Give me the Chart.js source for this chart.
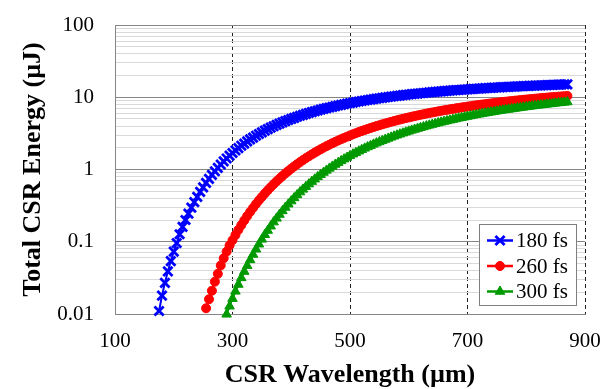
<!DOCTYPE html>
<html lang="en">
<head>
  <meta charset="UTF-8">
  <title>Total CSR Energy</title>
  <script src="https://cdn.jsdelivr.net/npm/chart.js"></script>
  <style>
    body { margin: 0; background: #fff; }
    #wrap { width: 605px; height: 389px; }
  </style>
</head>
<body>
<div id="wrap"><canvas id="graficoCSR" width="605" height="389"></canvas></div>

<script>
  // CSR wavelength (um), one sample every 5 um
  const wavelength = [
    175,180,185,190,195,200,205,210,215,220,225,230,235,240,
    245,250,255,260,265,270,275,280,285,290,295,300,305,310,
    315,320,325,330,335,340,345,350,355,360,365,370,375,380,
    385,390,395,400,405,410,415,420,425,430,435,440,445,450,
    455,460,465,470,475,480,485,490,495,500,505,510,515,520,
    525,530,535,540,545,550,555,560,565,570,575,580,585,590,
    595,600,605,610,615,620,625,630,635,640,645,650,655,660,
    665,670,675,680,685,690,695,700,705,710,715,720,725,730,
    735,740,745,750,755,760,765,770,775,780,785,790,795,800,
    805,810,815,820,825,830,835,840,845,850,855,860,865,870
  ];

  // total CSR energy (uJ); null = below the 0.01 axis
  const energy180 = [
    0.011,0.018,0.027,0.039,0.054,0.073,0.096,0.127,0.161,0.200,0.245,0.296,0.354,0.418,
    0.490,0.567,0.652,0.743,0.841,0.945,1.055,1.172,1.294,1.421,1.555,1.692,1.834,1.981,
    2.133,2.286,2.444,2.606,2.768,2.935,3.101,3.273,3.444,3.617,3.791,3.965,4.140,4.317,
    4.489,4.667,4.843,5.018,5.195,5.369,5.543,5.715,5.887,6.058,6.227,6.396,6.563,6.730,
    6.894,7.056,7.217,7.377,7.536,7.692,7.847,7.999,8.151,8.300,8.448,8.593,8.737,8.879,
    9.020,9.158,9.294,9.430,9.561,9.693,9.824,9.949,10.08,10.20,10.32,10.44,10.56,10.68,
    10.79,10.91,11.02,11.13,11.24,11.35,11.45,11.55,11.66,11.76,11.86,11.96,12.05,12.15,
    12.24,12.33,12.43,12.52,12.61,12.69,12.78,12.86,12.94,13.03,13.11,13.19,13.26,13.34,
    13.42,13.50,13.57,13.64,13.71,13.78,13.85,13.92,13.99,14.06,14.12,14.19,14.25,14.31,
    14.38,14.44,14.50,14.56,14.62,14.67,14.73,14.79,14.84,14.90,14.95,15.00,15.05,15.11
  ];

  const energy260 = [
    null,null,null,null,null,null,null,null,null,null,null,null,null,null,
    null,null,0.012,0.016,0.021,0.028,0.036,0.047,0.059,0.073,0.089,0.105,0.124,0.146,
    0.170,0.197,0.227,0.259,0.294,0.333,0.374,0.418,0.466,0.516,0.570,0.626,0.686,0.748,
    0.814,0.883,0.954,1.028,1.104,1.184,1.267,1.352,1.438,1.527,1.618,1.711,1.807,1.905,
    2.004,2.105,2.206,2.310,2.416,2.523,2.631,2.739,2.850,2.960,3.072,3.184,3.298,3.412,
    3.526,3.641,3.756,3.870,3.988,4.101,4.218,4.333,4.449,4.566,4.681,4.797,4.913,5.028,
    5.142,5.257,5.372,5.487,5.599,5.713,5.824,5.935,6.048,6.159,6.268,6.378,6.486,6.594,
    6.703,6.808,6.914,7.019,7.125,7.230,7.333,7.433,7.536,7.635,7.737,7.836,7.932,8.029,
    8.128,8.224,8.318,8.411,8.507,8.599,8.689,8.779,8.870,8.958,9.047,9.137,9.224,9.308,
    9.394,9.478,9.559,9.644,9.727,9.805,9.887,9.967,10.04,10.12,10.20,10.28,10.35,10.43
  ];

  const energy300 = [
    null,null,null,null,null,null,null,null,null,null,null,null,null,null,
    null,null,null,null,null,null,null,null,null,0.0099,0.0128,0.0163,0.0206,0.0256,
    0.0316,0.0386,0.0467,0.0561,0.0667,0.0788,0.0924,0.108,0.125,0.143,0.164,0.187,0.211,0.238,
    0.267,0.298,0.331,0.366,0.404,0.444,0.487,0.531,0.579,0.628,0.680,0.734,0.790,0.849,
    0.909,0.972,1.036,1.104,1.173,1.243,1.316,1.391,1.468,1.546,1.627,1.707,1.791,1.875,
    1.962,2.050,2.138,2.228,2.318,2.410,2.506,2.598,2.693,2.789,2.886,2.983,3.082,3.180,
    3.280,3.380,3.481,3.581,3.683,3.785,3.886,3.987,4.090,4.194,4.294,4.397,4.499,4.601,
    4.706,4.806,4.908,5.010,5.114,5.216,5.317,5.417,5.518,5.618,5.720,5.819,5.917,6.016,
    6.117,6.216,6.312,6.410,6.509,6.606,6.699,6.794,6.890,6.983,7.078,7.174,7.266,7.358,
    7.450,7.541,7.629,7.722,7.811,7.897,7.988,8.075,8.159,8.248,8.333,8.418,8.500,8.588
  ];

  const seriesNames = ['180 fs', '260 fs', '300 fs'];
  const xTicks = [100, 300, 500, 700, 900];
  const yDecades = [0.01, 0.1, 1, 10, 100];

  const serif = "'Liberation Serif', 'Times New Roman', serif";

  // log grid: 1..9 in every decade
  const yTicks = [];
  yDecades.forEach((d, i) => {
    if (i === yDecades.length - 1) { yTicks.push(d); return; }
    for (let k = 1; k < 10; k++) yTicks.push(+(d * k).toPrecision(3));
  });

  const toPoints = vals => wavelength
    .map((w, i) => ({ x: w, y: vals[i] }))
    .filter(p => p.y !== null);

  // legend box inside the plot, like the original
  const cajaLeyenda = {
    id: 'cajaLeyenda',
    afterDraw(chart) {
      const ctx = chart.ctx;
      const x0 = 479, y0 = 224, w = 97, h = 81;
      ctx.save();
      ctx.fillStyle = '#fff';
      ctx.fillRect(x0, y0, w, h);
      ctx.strokeStyle = '#7f7f7f';
      ctx.lineWidth = 1;
      ctx.strokeRect(x0 + 0.5, y0 + 0.5, w, h);

      chart.data.datasets.forEach((ds, i) => {
        const y = y0 + 16.5 + i * 25.5;
        ctx.strokeStyle = ds.borderColor;
        ctx.lineWidth = 2.5;
        ctx.beginPath();
        ctx.moveTo(x0 + 8, y);
        ctx.lineTo(x0 + 34, y);
        ctx.stroke();

        ctx.fillStyle = ds.pointBackgroundColor;
        ctx.strokeStyle = ds.pointBorderColor;
        ctx.lineWidth = ds.pointBorderWidth;
        Chart.helpers.drawPoint(ctx, {
          pointStyle: ds.pointStyle,
          radius: ds.pointRadius,
          borderWidth: ds.pointBorderWidth,
          rotation: 0
        }, x0 + 21, y);

        ctx.fillStyle = '#000';
        ctx.font = '21px ' + serif;
        ctx.textAlign = 'left';
        ctx.textBaseline = 'middle';
        ctx.fillText(ds.label, x0 + 37, y + 1);
      });
      ctx.restore();
    }
  };

  const ctx = document.getElementById('graficoCSR').getContext('2d');
  new Chart(ctx, {
    type: 'line',
    data: {
      datasets: [
        {
          label: seriesNames[0],
          data: toPoints(energy180),
          borderColor: '#0000ff',
          backgroundColor: '#0000ff',
          borderWidth: 2,
          pointStyle: 'crossRot',
          pointRadius: 6.5,
          pointBorderWidth: 2.8,
          pointBackgroundColor: '#0000ff',
          pointBorderColor: '#0000ff',
          order: 3
        },
        {
          label: seriesNames[1],
          data: toPoints(energy260),
          borderColor: '#ff0000',
          backgroundColor: '#ff0000',
          borderWidth: 2,
          pointStyle: 'circle',
          pointRadius: 4.5,
          pointBorderWidth: 1,
          pointBackgroundColor: '#ff0000',
          pointBorderColor: '#ff0000',
          order: 2
        },
        {
          label: seriesNames[2],
          data: toPoints(energy300),
          borderColor: '#009a00',
          backgroundColor: '#009a00',
          borderWidth: 2,
          pointStyle: 'triangle',
          pointRadius: 5.5,
          pointBorderWidth: 1,
          pointBackgroundColor: '#009a00',
          pointBorderColor: '#009a00',
          order: 1
        }
      ]
    },
    options: {
      responsive: false,
      animation: false,
      clip: false,
      layout: { autoPadding: false, padding: { top: 25, right: 20, left: 0, bottom: 0 } },
      plugins: {
        legend: { display: false },
        tooltip: { enabled: false }
      },
      scales: {
        x: {
          type: 'linear',
          min: 100,
          max: 900,
          afterBuildTicks: s => { s.ticks = xTicks.map(v => ({ value: v })); },
          afterFit: s => {
            s.height = 75;
            s.paddingLeft = 0;
            s.paddingRight = 0;
          },
          ticks: { font: { family: serif, size: 21 }, color: '#000', padding: 15 },
          grid: {
            drawTicks: false,
            color: c => (c.tick && c.tick.value === 100) ? 'rgba(0,0,0,0)' : '#222'
          },
          border: { color: '#868686', dash: [4, 3] },
          title: {
            display: true,
            text: 'CSR Wavelength (µm)',
            color: '#000',
            font: { family: serif, size: 26, weight: 'bold', lineHeight: 1 },
            padding: { top: 0, bottom: 1 }
          }
        },
        y: {
          type: 'logarithmic',
          min: 0.01,
          max: 100,
          afterBuildTicks: s => { s.ticks = yTicks.map(v => ({ value: v })); },
          afterFit: s => {
            s.width = 115;
            s.paddingTop = 0;
            s.paddingBottom = 0;
          },
          ticks: {
            autoSkip: false,
            font: { family: serif, size: 21 },
            color: '#000',
            padding: 21,
            callback: v => yDecades.includes(v) ? String(v) : ''
          },
          grid: {
            drawTicks: false,
            color: c => yDecades.includes(c.tick.value) ? '#868686' : '#d9d9d9'
          },
          border: { color: '#868686' },
          title: {
            display: true,
            text: 'Total CSR Energy (µJ)',
            color: '#000',
            font: { family: serif, size: 26, weight: 'bold', lineHeight: 1 },
            padding: { top: 20, bottom: 0 }
          }
        }
      }
    },
    plugins: [cajaLeyenda]
  });
</script>
</body>
</html>
